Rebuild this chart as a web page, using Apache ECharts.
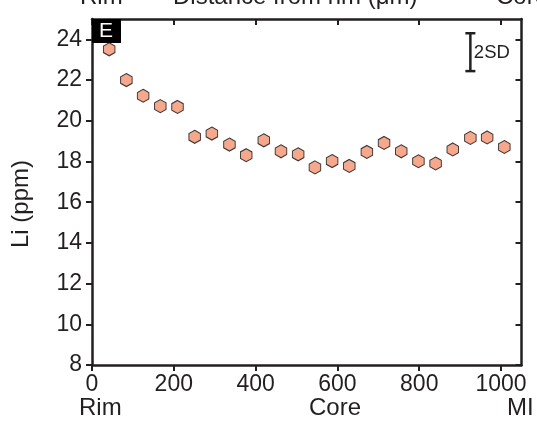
<!DOCTYPE html>
<html><head><meta charset="utf-8">
<script src="https://cdn.jsdelivr.net/npm/echarts@6/dist/echarts.min.js"></script>
<style>html,body{margin:0;padding:0;background:#fff}#c{width:537px;height:426px}</style>
</head><body><div id="c"></div>
<script>
// ---- data ----
const distance = [42, 84, 125, 167, 209, 251, 293, 336, 377, 420, 462, 504, 545, 587, 629, 672, 714, 756, 798, 840, 882, 925, 966, 1008];
const li = [23.51, 22.0, 21.23, 20.72, 20.68, 19.21, 19.37, 18.83, 18.31, 19.04, 18.50, 18.35, 17.71, 18.02, 17.78, 18.47, 18.91, 18.50, 18.01, 17.90, 18.59, 19.16, 19.18, 18.71];
const xTicks = [0, 200, 400, 600, 800, 1000];
const yTicks = [8, 10, 12, 14, 16, 18, 20, 22, 24];
const sdBar = [[925, 23.37, 0.93]]; // x, centre, half-length (2SD)
const sdLabel = '2SD';
const panelLabel = 'E';
const yTitle = 'Li (ppm)';
const topTexts = ['Rim', 'Distance from rim (μm)', 'Core'];
const bottomTexts = ['Rim', 'Core', 'MI'];

// ---- chart ----
const INK = '#231f20';
const FONT = 'Liberation Sans, Arial, Helvetica, sans-serif';
const chart = echarts.init(document.getElementById('c'), null, {renderer: 'canvas'});
const points = distance.map((d, i) => [d, li[i]]);
const hexPath = 'path://M0,-1 L0.866,-0.5 L0.866,0.5 L0,1 L-0.866,0.5 L-0.866,-0.5 Z';
const plain = v => String(v);

const axisLine = {show: true, onZero: false, lineStyle: {color: INK, width: 2.5}};
chart.setOption({
  animation: false,
  backgroundColor: '#fff',
  textStyle: {fontFamily: FONT, color: INK},
  grid: {left: 92, right: 15.5, top: 19, bottom: 61, containLabel: false},
  xAxis: [
    {type: 'value', position: 'bottom', min: 0, max: 1050, interval: 200,
     axisLine: axisLine, splitLine: {show: false},
     axisTick: {show: true, inside: false, length: 6, lineStyle: {color: INK, width: 2}, customValues: xTicks},
     axisLabel: {show: true, margin: 8, fontSize: 23, color: INK, fontFamily: FONT, customValues: xTicks, formatter: plain}},
    {type: 'value', position: 'top', min: 0, max: 1050, interval: 200,
     axisLine: axisLine, splitLine: {show: false},
     axisTick: {show: true, inside: true, length: 6, lineStyle: {color: INK, width: 2}, customValues: xTicks},
     axisLabel: {show: false}}
  ],
  yAxis: [
    {type: 'value', position: 'left', min: 8, max: 25, interval: 2,
     axisLine: axisLine, splitLine: {show: false},
     axisTick: {show: true, inside: false, length: 6, lineStyle: {color: INK, width: 2}, customValues: yTicks},
     axisLabel: {show: true, margin: 10, fontSize: 23, color: INK, fontFamily: FONT, customValues: yTicks, formatter: plain}},
    {type: 'value', position: 'right', min: 8, max: 25, interval: 2,
     axisLine: axisLine, splitLine: {show: false},
     axisTick: {show: true, inside: true, length: 6, lineStyle: {color: INK, width: 2}, customValues: yTicks},
     axisLabel: {show: false}}
  ],
  series: [
    {type: 'scatter', xAxisIndex: 0, yAxisIndex: 0, data: points,
     symbol: hexPath, symbolSize: [11.5, 13],
     itemStyle: {color: '#f5a88c', borderColor: '#3a3535', borderWidth: 1, opacity: 1}, z: 5},
    {type: 'custom', xAxisIndex: 0, yAxisIndex: 0, data: sdBar, z: 6,
     renderItem: function (params, api) {
       const x = api.value(0), y = api.value(1), h = api.value(2);
       const t = api.coord([x, y + h]), b = api.coord([x, y - h]);
       const cw = 5, st = {stroke: INK, lineWidth: 2.5};
       return {type: 'group', children: [
         {type: 'line', shape: {x1: t[0], y1: t[1], x2: b[0], y2: b[1]}, style: st},
         {type: 'line', shape: {x1: t[0] - cw, y1: t[1], x2: t[0] + cw, y2: t[1]}, style: st},
         {type: 'line', shape: {x1: b[0] - cw, y1: b[1], x2: b[0] + cw, y2: b[1]}, style: st},
         {type: 'text', x: t[0] + 3.5, y: (t[1] + b[1]) / 2 + 0.5,
          style: {text: sdLabel, fill: INK, font: '18.5px ' + FONT, verticalAlign: 'middle', align: 'left'}}
       ]};
     }}
  ],
  graphic: [
    {type: 'rect', left: 92, top: 19, shape: {width: 29, height: 24}, style: {fill: '#000'}, z: 10},
    {type: 'text', x: 106, y: 31, z: 11,
     style: {text: panelLabel, fill: '#fff', font: '21px ' + FONT, align: 'center', verticalAlign: 'middle'}},
    {type: 'text', x: 21, y: 204, rotation: Math.PI / 2,
     style: {text: yTitle, fill: INK, font: '24px ' + FONT, align: 'center', verticalAlign: 'middle'}},
    {type: 'text', x: 80, y: -3, style: {text: topTexts[0], fill: INK, font: '24px ' + FONT, align: 'left', verticalAlign: 'middle'}},
    {type: 'text', x: 173, y: -3, style: {text: topTexts[1], fill: INK, font: '24px ' + FONT, align: 'left', verticalAlign: 'middle'}},
    {type: 'text', x: 496, y: -3, style: {text: topTexts[2], fill: INK, font: '24px ' + FONT, align: 'left', verticalAlign: 'middle'}},
    {type: 'text', x: 79, y: 408, style: {text: bottomTexts[0], fill: INK, font: '24px ' + FONT, align: 'left', verticalAlign: 'middle'}},
    {type: 'text', x: 309, y: 408, style: {text: bottomTexts[1], fill: INK, font: '24px ' + FONT, align: 'left', verticalAlign: 'middle'}},
    {type: 'text', x: 507, y: 408, style: {text: bottomTexts[2], fill: INK, font: '24px ' + FONT, align: 'left', verticalAlign: 'middle'}}
  ]
});
</script>
</body></html>
